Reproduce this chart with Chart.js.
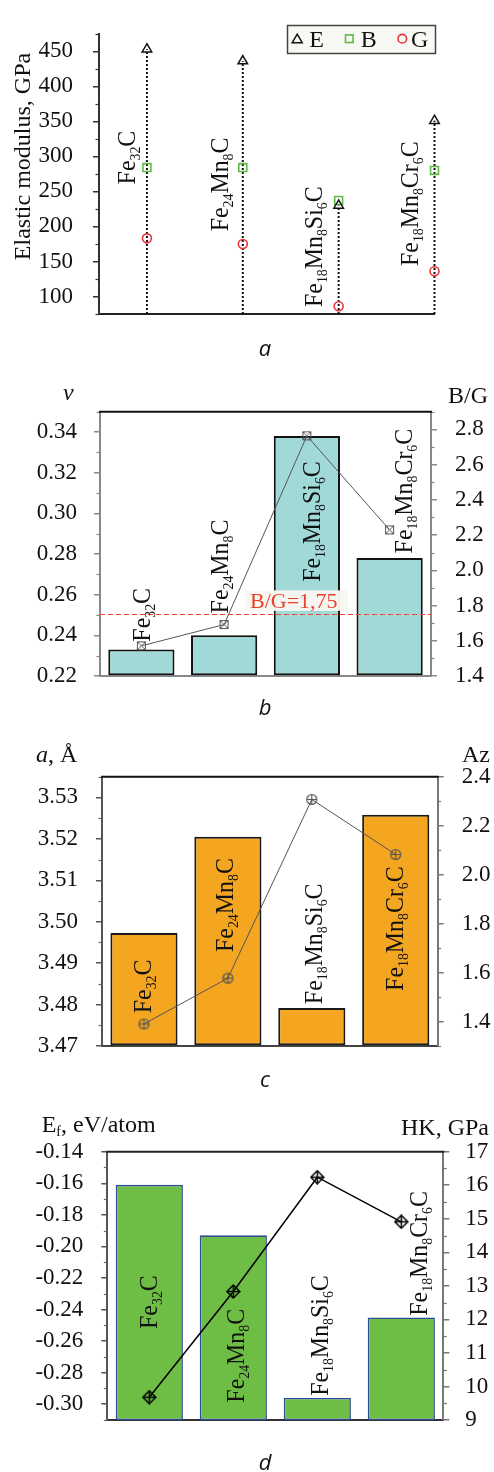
<!DOCTYPE html>
<html><head><meta charset="utf-8">
<script src="https://cdn.jsdelivr.net/npm/chart.js@4"></script>
<style>
html,body{margin:0;padding:0;background:#fff}
body{width:494px;height:1472px;position:relative;overflow:hidden}
.p{position:absolute;left:0;width:494px}
canvas{display:block}
</style></head><body>
<div class="p" style="top:0px;height:365px"><canvas id="ca" width="494" height="365"></canvas></div>
<div class="p" style="top:365px;height:355px"><canvas id="cb" width="494" height="355"></canvas></div>
<div class="p" style="top:720px;height:372px"><canvas id="cc" width="494" height="372"></canvas></div>
<div class="p" style="top:1092px;height:380px"><canvas id="cd" width="494" height="380"></canvas></div>
<script>
// ---------------- data ----------------
const categories = ['Fe32C','Fe24Mn8C','Fe18Mn8Si6C','Fe18Mn8Cr6C'];
// (a) elastic moduli, GPa
const youngE = [453, 436, 230, 351];
const bulkB  = [284, 284, 237, 280];
const shearG = [183, 175, 86, 136];
// (b) Poisson ratio and B/G
const poisson = [0.233, 0.240, 0.338, 0.278];
const ratioBG = [1.571, 1.692, 2.763, 2.229];
const bgCritical = 1.75;
// (c) lattice parameter and anisotropy
const latticeA = [3.4973, 3.5205, 3.4792, 3.5258];
const anisoAz  = [1.39, 1.577, 2.307, 2.082];
// (d) formation energy and hardness
const formationEf = [-0.161, -0.193, -0.296, -0.245];
const hardnessHK  = [9.68, 12.83, 16.24, 14.91];
// tick labels
const ticksA  = [100,150,200,250,300,350,400,450];
const ticksBL = [0.22,0.24,0.26,0.28,0.30,0.32,0.34];
const ticksBR = [1.4,1.6,1.8,2.0,2.2,2.4,2.6,2.8];
const ticksCL = [3.47,3.48,3.49,3.50,3.51,3.52,3.53];
const ticksCR = [1.4,1.6,1.8,2.0,2.2,2.4];
const ticksDL = [-0.30,-0.28,-0.26,-0.24,-0.22,-0.20,-0.18,-0.16,-0.14];
const ticksDR = [9,10,11,12,13,14,15,16,17];

// ---------------- styling helpers ----------------
const SERIF = "'Liberation Serif','Times New Roman',serif";
const CAPFONT = "italic 22px 'Open Sans', sans-serif";
Chart.defaults.font.family = SERIF;
Chart.defaults.animation = false;

function yAxis(o){
  return {
    type:'linear', position:o.pos, min:o.min, max:o.max,
    afterBuildTicks: s => { s.ticks = o.ticks.map(v => ({value:v})); },
    afterFit: s => { s.width = o.width; },
    ticks:{ autoSkip:false, padding:o.pad, color:'#111', font:{family:SERIF, size:23},
            callback: v => o.dec == null ? String(v) : Number(v).toFixed(o.dec) },
    grid:{ drawOnChartArea:false, drawTicks:true, tickLength:6, color:o.color, lineWidth:1.5 },
    border:{ display:true, color:o.color, width:2 }
  };
}
function xAxis(o){
  return Object.assign({
    display:true,
    afterFit: s => { s.height = o.height; },
    ticks:{display:false},
    grid:{display:false, drawTicks:false},
    border:{display:true, color:o.color, width:2}
  }, o.extra || {});
}
function minorTicks(list){
  return { id:'minorTicks', afterDraw(chart){
    const ctx = chart.ctx; ctx.save(); ctx.lineWidth = 1.2;
    for (const m of list){
      const s = chart.scales[m.id]; const majors = s.ticks.map(t => t.value);
      ctx.strokeStyle = m.color;
      const k0 = Math.ceil(s.min/m.step - 1e-6), k1 = Math.floor(s.max/m.step + 1e-6);
      for (let k = k0; k <= k1; k++){
        const v = k*m.step;
        if (majors.some(t => Math.abs(t - v) < m.step*0.01)) continue;
        const y = Math.round(s.getPixelForValue(v)) + 0.5;
        const left = s.position === 'left';
        const x = left ? s.right : s.left;
        ctx.beginPath(); ctx.moveTo(x, y); ctx.lineTo(x + (left ? -m.len : m.len), y); ctx.stroke();
      }
    }
    ctx.restore();
  }};
}
function parseFormula(s){
  const parts = [];
  for (const ch of s){
    const sub = /\d/.test(ch); const last = parts[parts.length-1];
    if (last && last.sub === sub) last.t += ch; else parts.push({t:ch, sub});
  }
  return parts;
}
// rotated formula: (x = baseline on screen, y = start of text on screen)
function drawFormula(ctx, s, x, y){
  ctx.save(); ctx.translate(x, y); ctx.rotate(-Math.PI/2); ctx.scale(0.92, 1);
  ctx.fillStyle = '#111'; ctx.textBaseline = 'alphabetic'; ctx.textAlign = 'left';
  let cx = 0;
  for (const p of parseFormula(s)){
    ctx.font = p.sub ? '15px ' + SERIF : '26px ' + SERIF;
    ctx.fillText(p.t, cx, p.sub ? 5 : 0);
    cx += ctx.measureText(p.t).width;
  }
  ctx.restore();
}
function drawRich(ctx, parts, x, y, align){
  ctx.save(); ctx.textBaseline = 'alphabetic'; ctx.textAlign = 'left'; ctx.fillStyle = '#111';
  let w = 0;
  for (const p of parts){ ctx.font = p.font; w += ctx.measureText(p.t).width; }
  let cx = align === 'right' ? x - w : (align === 'center' ? x - w/2 : x);
  for (const p of parts){ ctx.font = p.font; ctx.fillText(p.t, cx, y + (p.dy || 0)); cx += ctx.measureText(p.t).width; }
  ctx.restore();
}
function caption(ctx, t, x, y){
  ctx.save(); ctx.font = CAPFONT; ctx.fillStyle = '#111'; ctx.textAlign = 'center'; ctx.textBaseline = 'alphabetic';
  ctx.fillText(t, x, y); ctx.restore();
}
function topBorder(chart, color){
  const ctx = chart.ctx, ca = chart.chartArea;
  ctx.save(); ctx.strokeStyle = color; ctx.lineWidth = 2;
  ctx.beginPath(); ctx.moveTo(ca.left - 1, ca.top); ctx.lineTo(ca.right + 1, ca.top); ctx.stroke(); ctx.restore();
}
function drawCatLabels(chart, place, xval){
  const xs = chart.scales.x, ys = chart.scales.y;
  categories.forEach((c, i) => {
    drawFormula(chart.ctx, c, xs.getPixelForValue(xval(i)) + place[i].dx, ys.getPixelForValue(place[i].v));
  });
}
function makeIcon(sz, fn){ const c = document.createElement('canvas'); c.width = c.height = sz; fn(c.getContext('2d'), sz); return c; }
const iconBoxX = makeIcon(11, g => {
  g.strokeStyle = '#555'; g.lineWidth = 1; g.strokeRect(1.5, 1.5, 8, 8);
  g.beginPath(); g.moveTo(1.5,1.5); g.lineTo(9.5,9.5); g.moveTo(9.5,1.5); g.lineTo(1.5,9.5); g.stroke();
});
const iconCirclePlus = makeIcon(13, g => {
  g.strokeStyle = '#555'; g.lineWidth = 1.2;
  g.beginPath(); g.arc(6.5, 6.5, 5, 0, Math.PI*2); g.stroke();
  g.beginPath(); g.moveTo(1.5,6.5); g.lineTo(11.5,6.5); g.moveTo(6.5,1.5); g.lineTo(6.5,11.5); g.stroke();
});
const iconDiamondPlus = makeIcon(15, g => {
  g.strokeStyle = '#000'; g.lineWidth = 1.5;
  g.beginPath(); g.moveTo(7.5,1); g.lineTo(14,7.5); g.lineTo(7.5,14); g.lineTo(1,7.5); g.closePath(); g.stroke();
  g.beginPath(); g.moveTo(1,7.5); g.lineTo(14,7.5); g.moveTo(7.5,1); g.lineTo(7.5,14); g.stroke();
});

// label placement (annotation offsets, not data)
const labelPosA = [{dx:-11.6,v:260},{dx:-15.1,v:193},{dx:-16.8,v:85},{dx:-16.2,v:143.5}];
const labelPosB = [{dx:8.6,v:0.2369},{dx:4.2,v:0.2508},{dx:13.1,v:0.2663},{dx:22,v:0.2803}];
const labelPosC = [{dx:6.7,v:3.4779},{dx:5.4,v:3.4927},{dx:9.9,v:3.4801},{dx:7.6,v:3.4833}];
const labelPosD = [{dx:7.4,v:-0.2523},{dx:11,v:-0.299},{dx:11,v:-0.2947},{dx:26,v:-0.2439}];

const commonPlugins = { legend:{display:false}, tooltip:{enabled:false} };

// ---------------- (a) ----------------
const A_MIN = 75, A_MAX = 475;
const stemSets = youngE.map((v, i) => ({
  type:'line', data:[{x:i+0.5, y:A_MIN}, {x:i+0.5, y:v}], showLine:true,
  borderColor:'#111', borderWidth:2, borderDash:[2,2], pointRadius:0, clip:false, order:5
}));
new Chart(document.getElementById('ca'), {
  type:'scatter',
  data:{ datasets:[
    {label:'E', data: youngE.map((v,i)=>({x:i+0.5,y:v})), pointStyle:'triangle', pointRadius:5.5,
     borderColor:'#111', backgroundColor:'rgba(0,0,0,0)', borderWidth:1.5, clip:false, order:1},
    {label:'B', data: bulkB.map((v,i)=>({x:i+0.5,y:v})), pointStyle:'rect', pointRadius:5.6,
     borderColor:'#5fba46', backgroundColor:'rgba(0,0,0,0)', borderWidth:1.6, clip:false, order:2},
    {label:'G', data: shearG.map((v,i)=>({x:i+0.5,y:v})), pointStyle:'circle', pointRadius:4.5,
     borderColor:'#e8333a', backgroundColor:'rgba(0,0,0,0)', borderWidth:1.6, clip:false, order:3},
    ...stemSets
  ]},
  options:{
    responsive:false, animation:false, events:[],
    layout:{ padding:{top:6, left:0, right:59.5, bottom:0}, autoPadding:false },
    plugins: commonPlugins,
    scales:{
      x: xAxis({height:51, color:'#222', extra:{type:'linear', min:0, max:3.5}}),
      y: yAxis({pos:'left', min:A_MIN, max:A_MAX, ticks:ticksA, dec:null, width:99, color:'#333', pad:20})
    }
  },
  plugins:[ minorTicks([{id:'y', step:25, len:3.5, color:'#333'}]), {
    id:'annA', afterDraw(chart){
      const ctx = chart.ctx;
      drawCatLabels(chart, labelPosA, i => i + 0.5);
      // y title
      ctx.save(); ctx.translate(29.5, 156.5); ctx.rotate(-Math.PI/2);
      ctx.font = '24px ' + SERIF; ctx.fillStyle = '#111'; ctx.textAlign = 'center'; ctx.textBaseline = 'alphabetic';
      ctx.fillText('Elastic modulus, GPa', 0, 0); ctx.restore();
      // legend
      ctx.save();
      ctx.fillStyle = '#f8f8f4'; ctx.fillRect(287.5, 25.5, 148, 28);
      ctx.strokeStyle = '#444'; ctx.lineWidth = 1.5; ctx.strokeRect(287.5, 25.5, 148, 28);
      const ds = chart.data.datasets;
      const my = 38.7;
      // triangle
      ctx.strokeStyle = ds[0].borderColor; ctx.lineWidth = 1.5;
      ctx.beginPath(); ctx.moveTo(297.2, my-4.5); ctx.lineTo(302.2, my+4); ctx.lineTo(292.2, my+4); ctx.closePath(); ctx.stroke();
      ctx.strokeStyle = ds[1].borderColor; ctx.lineWidth = 1.6; ctx.strokeRect(345.5, my-3.8, 7.6, 7.6);
      ctx.strokeStyle = ds[2].borderColor; ctx.beginPath(); ctx.arc(402.3, my, 4.3, 0, Math.PI*2); ctx.stroke();
      ctx.font = '24px ' + SERIF; ctx.fillStyle = '#111'; ctx.textBaseline = 'alphabetic';
      ctx.fillText(ds[0].label, 309.3, 46.7); ctx.fillText(ds[1].label, 360.8, 46.7); ctx.fillText(ds[2].label, 411, 46.7);
      ctx.restore();
      caption(ctx, 'a', 265, 356);
    }
  }]
});

// ---------------- (b) ----------------
new Chart(document.getElementById('cb'), {
  type:'bar',
  data:{ labels: categories, datasets:[
    {type:'line', label:'B/G', data: ratioBG, yAxisID:'y2', borderColor:'#555', borderWidth:1,
     pointStyle: iconBoxX, pointRadius:5, clip:false, order:0},
    {type:'bar', label:'v', data: poisson, yAxisID:'y', base:0.22, backgroundColor:'#a0d9d8',
     borderColor:'#111', borderWidth:2, borderSkipped:false, categoryPercentage:0.8, barPercentage:1, order:1}
  ]},
  options:{
    responsive:false, animation:false, events:[],
    layout:{ padding:{top:46.7, left:0, right:0, bottom:0}, autoPadding:false },
    plugins: commonPlugins,
    scales:{
      x: xAxis({height:44, color:'#888'}),
      y: yAxis({pos:'left', min:0.22, max:0.35, ticks:ticksBL, dec:2, width:100, color:'#888', pad:17}),
      y2: yAxis({pos:'right', min:1.4, max:2.9, ticks:ticksBR, dec:1, width:63, color:'#888', pad:18})
    }
  },
  plugins:[ minorTicks([{id:'y', step:0.01, len:3.5, color:'#888'}, {id:'y2', step:0.1, len:3.5, color:'#888'}]), {
    id:'annB', afterDatasetsDraw(chart){
      const ctx = chart.ctx, ca = chart.chartArea, yR = chart.scales.y2;
      const yc = yR.getPixelForValue(bgCritical);
      ctx.save();
      ctx.fillStyle = 'rgba(249,247,241,0.96)'; ctx.fillRect(245, yc - 24, 103, 20.5);
      ctx.font = '22px ' + SERIF; ctx.fillStyle = '#e8402a'; ctx.textBaseline = 'alphabetic'; ctx.textAlign = 'left';
      ctx.fillText('B/G=' + bgCritical.toFixed(2).replace('.', ','), 250, yc - 6.5);
      ctx.strokeStyle = '#ee4433'; ctx.lineWidth = 1; ctx.setLineDash([5,3]);
      ctx.beginPath(); ctx.moveTo(ca.left, Math.round(yc)+0.5); ctx.lineTo(ca.right, Math.round(yc)+0.5); ctx.stroke();
      ctx.restore();
      drawCatLabels(chart, labelPosB, i => i);
    },
    afterDraw(chart){
      const ctx = chart.ctx;
      topBorder(chart, '#111');
      drawRich(ctx, [{t:'v', font:'italic 24px ' + SERIF}], 68.3, 35, 'center');
      drawRich(ctx, [{t:'B/G', font:'24px ' + SERIF}], 448, 37.7, 'left');
      caption(ctx, 'b', 265, 350);
    }
  }]
});

// ---------------- (c) ----------------
new Chart(document.getElementById('cc'), {
  type:'bar',
  data:{ labels: categories, datasets:[
    {type:'line', label:'Az', data: anisoAz, yAxisID:'y2', borderColor:'#555', borderWidth:1,
     pointStyle: iconCirclePlus, pointRadius:5, clip:false, order:0},
    {type:'bar', label:'a', data: latticeA, yAxisID:'y', base:3.47, backgroundColor:'#f5a620',
     borderColor:'#1a1a1a', borderWidth:2, borderSkipped:false, categoryPercentage:0.8, barPercentage:1, order:1}
  ]},
  options:{
    responsive:false, animation:false, events:[],
    layout:{ padding:{top:56.7, left:0, right:0, bottom:0}, autoPadding:false },
    plugins: commonPlugins,
    scales:{
      x: xAxis({height:46, color:'#444'}),
      y: yAxis({pos:'left', min:3.47, max:3.535, ticks:ticksCL, dec:2, width:102, color:'#555', pad:18}),
      y2: yAxis({pos:'right', min:1.3, max:2.4, ticks:ticksCR, dec:1, width:56.3, color:'#777', pad:18})
    }
  },
  plugins:[ minorTicks([{id:'y', step:0.005, len:3.5, color:'#666'}, {id:'y2', step:0.1, len:3.5, color:'#777'}]), {
    id:'annC', afterDatasetsDraw(chart){ drawCatLabels(chart, labelPosC, i => i); },
    afterDraw(chart){
      const ctx = chart.ctx;
      topBorder(chart, '#111');
      drawRich(ctx, [{t:'a', font:'italic 24px ' + SERIF}, {t:', Å', font:'24px ' + SERIF}], 36, 42, 'left');
      drawRich(ctx, [{t:'Az', font:'24px ' + SERIF}], 462, 42, 'left');
      caption(ctx, 'c', 265, 367);
    }
  }]
});

// ---------------- (d) ----------------
new Chart(document.getElementById('cd'), {
  type:'bar',
  data:{ labels: categories, datasets:[
    {type:'line', label:'HK', data: hardnessHK, yAxisID:'y2', borderColor:'#000', borderWidth:1.5,
     pointStyle: iconDiamondPlus, pointRadius:6, clip:false, order:0},
    {type:'bar', label:'Ef', data: formationEf, yAxisID:'y', base:-0.31, backgroundColor:'#6ebe45',
     borderColor:'#2d4c96', borderWidth:1.6, borderSkipped:false, categoryPercentage:0.8, barPercentage:1, order:1}
  ]},
  options:{
    responsive:false, animation:false, events:[],
    layout:{ padding:{top:59.7, left:0, right:0, bottom:0}, autoPadding:false },
    plugins: commonPlugins,
    scales:{
      x: xAxis({height:52, color:'#333'}),
      y: yAxis({pos:'left', min:-0.31, max:-0.14, ticks:ticksDL, dec:2, width:107.3, color:'#555', pad:18}),
      y2: yAxis({pos:'right', min:9, max:17, ticks:ticksDR, dec:null, width:50.7, color:'#777', pad:16})
    }
  },
  plugins:[ minorTicks([{id:'y', step:0.01, len:3.5, color:'#666'}, {id:'y2', step:0.5, len:3.5, color:'#777'}]), {
    id:'annD', afterDatasetsDraw(chart){ drawCatLabels(chart, labelPosD, i => i); },
    afterDraw(chart){
      const ctx = chart.ctx;
      topBorder(chart, '#222');
      drawRich(ctx, [{t:'E', font:'24px ' + SERIF}, {t:'f', font:'14px ' + SERIF, dy:4}, {t:', eV/atom', font:'24px ' + SERIF}], 41.7, 39.7, 'left');
      drawRich(ctx, [{t:'HK, GPa', font:'24px ' + SERIF}], 489, 43, 'right');
      caption(ctx, 'd', 265, 378);
    }
  }]
});
</script>
</body></html>
